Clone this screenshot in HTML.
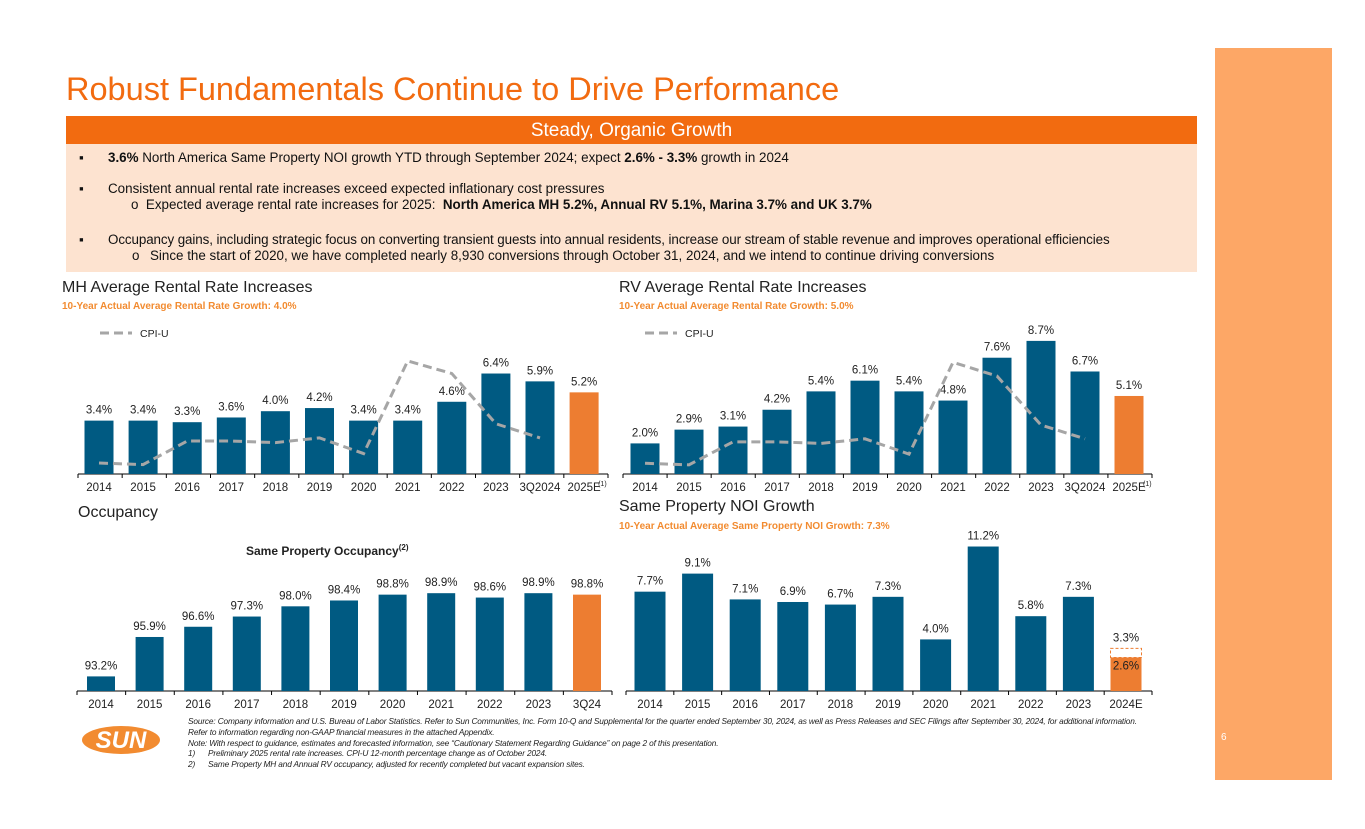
<!DOCTYPE html>
<html><head><meta charset="utf-8"><style>
body{margin:0;width:1365px;height:829px;background:#fff;position:relative;overflow:hidden;font-family:"Liberation Sans",Arial,sans-serif}
.a{position:absolute;white-space:nowrap}
</style></head><body>
<div class="a" style="left:1215px;top:48px;width:117px;height:732px;background:#FDA766"></div>
<div class="a" style="left:1221px;top:732px;font-size:10px;color:#fff">6</div>
<div class="a" style="left:66px;top:71px;font-size:32.5px;color:#F26B10">Robust Fundamentals Continue to Drive Performance</div>
<div class="a" style="left:66px;top:116px;width:1131px;height:28px;background:#F26B10;color:#fff;font-size:19px;text-align:center;line-height:29px">Steady, Organic Growth</div>
<div class="a" style="left:66px;top:144px;width:1131px;height:128px;background:#FDE3D0;font-size:13.4px;color:#111">
<div class="a" style="left:13px;top:6px">▪</div><div class="a" style="left:42px;top:6px"><b>3.6%</b> North America Same Property NOI growth YTD through September 2024; expect <b>2.6% - 3.3%</b> growth in 2024</div>
<div class="a" style="left:13px;top:37px">▪</div><div class="a" style="left:42px;top:37px">Consistent annual rental rate increases exceed expected inflationary cost pressures</div>
<div class="a" style="left:65px;top:53px">o&nbsp;&nbsp;Expected average rental rate increases for 2025:&nbsp; <b>North America MH 5.2%, Annual RV 5.1%, Marina 3.7% and UK 3.7%</b></div>
<div class="a" style="left:13px;top:88px">▪</div><div class="a" style="left:42px;top:88px;letter-spacing:-0.1px">Occupancy gains, including strategic focus on converting transient guests into annual residents, increase our stream of stable revenue and improves operational efficiencies</div>
<div class="a" style="left:66px;top:104px">o</div><div class="a" style="left:84px;top:104px">Since the start of 2020, we have completed nearly 8,930 conversions through October 31, 2024, and we intend to continue driving conversions</div>
</div>
<div class="a" style="left:62px;top:279px;font-size:16px;color:#222">MH Average Rental Rate Increases</div>
<div class="a" style="left:62px;top:301px;font-size:10px;font-weight:bold;color:#F28B30">10-Year Actual Average Rental Rate Growth: 4.0%</div>
<div class="a" style="left:619px;top:279px;font-size:16px;color:#222">RV Average Rental Rate Increases</div>
<div class="a" style="left:619px;top:301px;font-size:10px;font-weight:bold;color:#F28B30">10-Year Actual Average Rental Rate Growth: 5.0%</div>
<div class="a" style="left:78px;top:504px;font-size:16px;color:#222">Occupancy</div>
<div class="a" style="left:619px;top:498px;font-size:16px;color:#222">Same Property NOI Growth</div>
<div class="a" style="left:619px;top:521px;font-size:10px;font-weight:bold;color:#F28B30">10-Year Actual Average Same Property NOI Growth: 7.3%</div>
<div class="a" style="left:246px;top:543px;font-size:12px;font-weight:bold;color:#222">Same Property Occupancy<sup style="font-size:8px">(2)</sup></div>
<div class="a" style="left:82px;top:726px;width:78px;height:28px;border-radius:50%;background:#F28B30;color:#fff;font-weight:bold;font-style:italic;font-size:24px;text-align:center;line-height:29px">SUN</div>
<div class="a" style="left:188px;top:716px;font-size:8.3px;font-style:italic;color:#222;line-height:10.8px;letter-spacing:-0.15px">
Source: Company information and U.S. Bureau of Labor Statistics. Refer to Sun Communities, Inc. Form 10-Q and Supplemental for the quarter ended September 30, 2024, as well as Press Releases and SEC Filings after September 30, 2024, for additional information.<br>
Refer to information regarding non-GAAP financial measures in the attached Appendix.<br>
Note: With respect to guidance, estimates and forecasted information, see “Cautionary Statement Regarding Guidance” on page 2 of this presentation.<br>
1)&nbsp;&nbsp;&nbsp;&nbsp;&nbsp;&nbsp;Preliminary 2025 rental rate increases. CPI-U 12-month percentage change as of October 2024.<br>
2)&nbsp;&nbsp;&nbsp;&nbsp;&nbsp;&nbsp;Same Property MH and Annual RV occupancy, adjusted for recently completed but vacant expansion sites.</div>
<svg id="charts" width="1365" height="829" style="position:absolute;left:0;top:0" font-family="Liberation Sans, Arial, sans-serif"></svg>
<script>
const mhCats=["2014","2015","2016","2017","2018","2019","2020","2021","2022","2023","3Q2024","2025E"];
const mhVals=[3.4,3.4,3.3,3.6,4.0,4.2,3.4,3.4,4.6,6.4,5.9,5.2];
const mhCpi=[0.7,0.6,2.1,2.1,2.0,2.3,1.3,7.2,6.4,3.2,2.3];
const rvCats=["2014","2015","2016","2017","2018","2019","2020","2021","2022","2023","3Q2024","2025E"];
const rvVals=[2.0,2.9,3.1,4.2,5.4,6.1,5.4,4.8,7.6,8.7,6.7,5.1];
const rvCpi=[0.7,0.6,2.1,2.1,2.0,2.3,1.3,7.3,6.4,3.2,2.3];
const occCats=["2014","2015","2016","2017","2018","2019","2020","2021","2022","2023","3Q24"];
const occVals=[93.2,95.9,96.6,97.3,98.0,98.4,98.8,98.9,98.6,98.9,98.8];
const noiCats=["2014","2015","2016","2017","2018","2019","2020","2021","2022","2023","2024E"];
const noiVals=[7.7,9.1,7.1,6.9,6.7,7.3,4.0,11.2,5.8,7.3,2.6];
const noiHigh=3.3;
const NS="http://www.w3.org/2000/svg";
const svg=document.getElementById('charts');
function mk(t,a,p){const e=document.createElementNS(NS,t);for(const k in a)e.setAttribute(k,a[k]);(p||svg).appendChild(e);return e;}
const BLUE="#005A82",ORANGE="#ED7D31";
function chart(o){
  const g=mk('g',{});
  
  
  const n=o.cats.length;
  const x=i=>o.c0+i*o.step;
  const y=v=>o.base-(v-o.v0)*o.k;
  const ax=mk('line',{x1:o.ax0,x2:o.ax1,y1:o.base,y2:o.base,stroke:'#000','stroke-width':1},g);
  
  
  for(let i=0;i<=n;i++){const tx=o.ax0+i*(o.ax1-o.ax0)/n;mk('line',{x1:tx,x2:tx,y1:o.base,y2:o.base+4,stroke:'#000'},g);}
  o.cats.forEach((c,i)=>{
    const last=o.lastOrange&&i==n-1;
    const r=mk('rect',{x:x(i)-o.bw/2,y:y(o.vals[i]),width:o.bw,height:o.base-y(o.vals[i]),fill:last?ORANGE:BLUE},g);
    
    
    const t=mk('text',{x:x(i),y:o.base+17,'text-anchor':'middle','font-size':11.5,fill:'#222'},g);t.textContent=c;
    
    
    if(o.noLabelLast&&last)return;
    const l=mk('text',{x:x(i),y:y(o.vals[i])-7,'text-anchor':'middle','font-size':11.5,fill:'#222'},g);l.textContent=o.vals[i].toFixed(1)+'%';
    
    
  });
  if(o.cpi){
    const p=mk('polyline',{points:o.cpi.map((v,i)=>x(i)+','+y(v)).join(' '),fill:'none',stroke:'#A6A6A6','stroke-width':3,'stroke-dasharray':'9,5'},g);
    
    
    mk('line',{x1:o.ax0+22,x2:o.ax0+54,y1:333,y2:333,stroke:'#A6A6A6','stroke-width':3,'stroke-dasharray':'9,5'},g);
    const lt=mk('text',{x:o.ax0+62,y:337,'font-size':10.5,fill:'#222'},g);lt.textContent='CPI-U';
    
    
    const s=mk('text',{x:x(n-1)+14,y:o.base+12,'font-size':7,fill:'#222'},g);s.textContent='(1)';
  }
  return {x,y};
}
chart({name:'mh-chart',cats:mhCats,vals:mhVals,cpi:mhCpi,c0:99,step:44.1,bw:29,base:474,k:15.7,v0:0,ax0:78,ax1:608,lastOrange:true});
chart({name:'rv-chart',cats:rvCats,vals:rvVals,cpi:rvCpi,c0:645,step:44,bw:29,base:474,k:15.3,v0:0,ax0:623,ax1:1152,lastOrange:true});
chart({name:'occupancy-chart',cats:occCats,vals:occVals,c0:101,step:48.6,bw:28,base:691,k:14.6,v0:92.2,ax0:77,ax1:612,lastOrange:true});
const nc=chart({name:'noi-chart',cats:noiCats,vals:noiVals,c0:650,step:47.6,bw:31,base:691,k:12.9,v0:0,ax0:626,ax1:1152,lastOrange:true,noLabelLast:true});
const li=noiCats.length-1;
const db=mk('rect',{x:nc.x(li)-15.5,y:nc.y(noiHigh),width:31,height:nc.y(noiVals[li])-nc.y(noiHigh),fill:'none',stroke:ORANGE,'stroke-dasharray':'3,2'});


const hl=mk('text',{x:nc.x(li),y:nc.y(noiHigh)-7,'text-anchor':'middle','font-size':11.5,fill:'#222'});hl.textContent=noiHigh.toFixed(1)+'%';


const ll=mk('text',{x:nc.x(li),y:nc.y(noiVals[li])+12,'text-anchor':'middle','font-size':11.5,fill:'#222'});ll.textContent=noiVals[li].toFixed(1)+'%';


</script>
</body></html>
